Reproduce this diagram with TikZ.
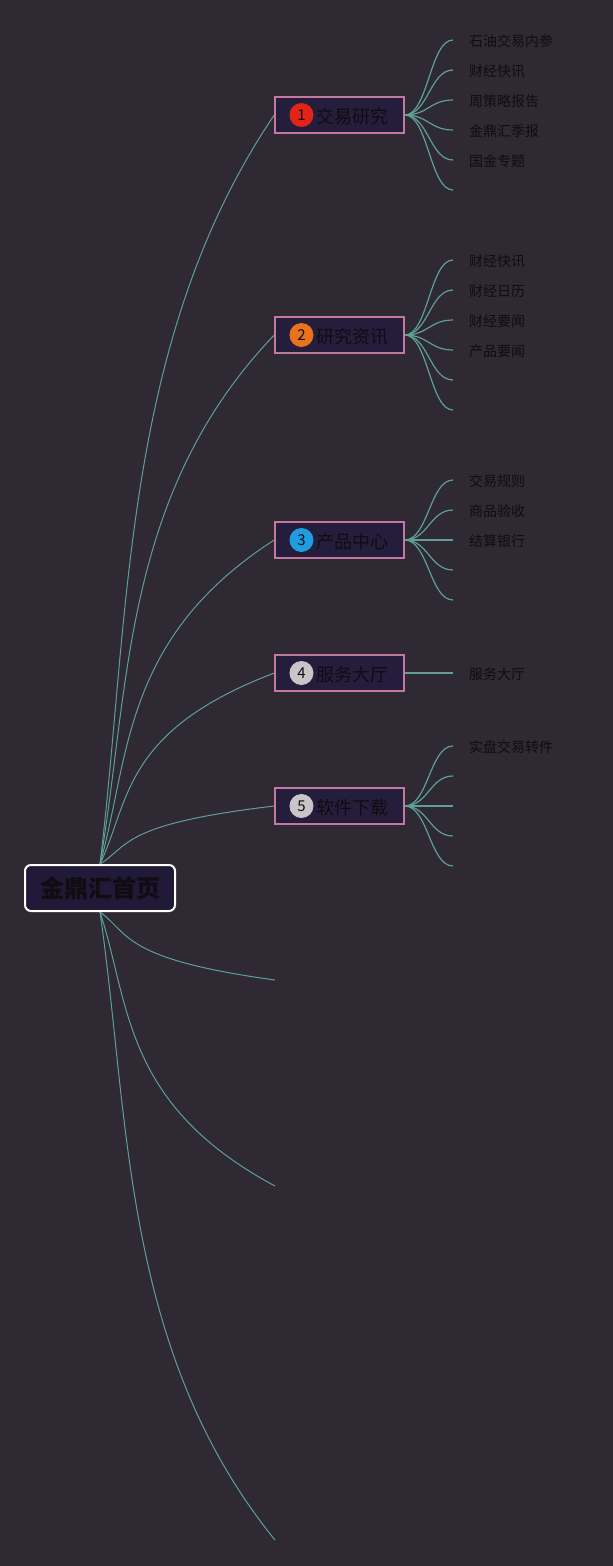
\documentclass[tikz,border=0pt]{standalone}
\usepackage{fontspec}
\newfontfamily\cjk{Noto Sans CJK SC}
\usepackage{tikz}
\usetikzlibrary{positioning}
\usepackage{xcolor}
\definecolor{bgdark}{RGB}{46,41,51}
\definecolor{rootfill}{RGB}{32,26,56}
\definecolor{topicfill}{RGB}{36,29,60}
\definecolor{topicedge}{RGB}{196,120,160}
\definecolor{linkteal}{RGB}{95,160,150}
\definecolor{inkdark}{RGB}{15,12,18}
\definecolor{badgered}{RGB}{226,36,24}
\definecolor{badgeorange}{RGB}{232,115,26}
\definecolor{badgeblue}{RGB}{30,157,224}
\definecolor{badgegrey}{RGB}{200,196,200}
\pgfdeclarelayer{bg}
\pgfdeclarelayer{links}
\pgfsetlayers{bg,links,main}

\begin{document}
\begin{tikzpicture}[x=1pt,y=-1pt,line cap=round,font=\cjk,
  root/.style={draw=white,line width=2pt,rounded corners=6pt,fill=rootfill,minimum width=150pt,minimum height=46pt,inner sep=0pt,text=inkdark,font=\cjk\bfseries\fontsize{24}{28}\selectfont},
  topic/.style={draw=topicedge,line width=1.5pt,fill=topicfill,minimum width=129pt,minimum height=36pt,inner sep=0pt},
  topictext/.style={inner sep=0pt,yshift=-1.5pt,text=inkdark,font=\cjk\fontsize{18}{20}\selectfont},
  badge/.style={circle,inner sep=0pt,minimum size=24pt,text=inkdark,font=\cjk\fontsize{15}{16}\selectfont},
  leaf/.style={inner sep=0pt,yshift=-1.5pt,text=inkdark,font=\cjk\fontsize{14}{16}\selectfont},
  branch/.style={draw=linkteal,line width=1pt},
  twig/.style={draw=linkteal,line width=1.2pt}]
\begin{pgfonlayer}{bg}
\fill[bgdark] (0,0) rectangle (613,1566);
\end{pgfonlayer}
\useasboundingbox (0,0) rectangle (613,1566);

\node[root] (r) at (100,888) {\raisebox{-1pt}{金鼎汇首页}};

\node[topic] (b1) at (339.5,115) {};
\node[badge,fill=badgered,right=15pt of b1.west] (i1) {1};
\node[topictext,right=3pt of i1] (n1) {交易研究};
\node[topic] (b2) at (339.5,335) {};
\node[badge,fill=badgeorange,right=15pt of b2.west] (i2) {2};
\node[topictext,right=3pt of i2] (n2) {研究资讯};
\node[topic] (b3) at (339.5,540) {};
\node[badge,fill=badgeblue,right=15pt of b3.west] (i3) {3};
\node[topictext,right=3pt of i3] (n3) {产品中心};
\node[topic] (b4) at (339.5,673) {};
\node[badge,fill=badgegrey,right=15pt of b4.west] (i4) {4};
\node[topictext,right=3pt of i4] (n4) {服务大厅};
\node[topic] (b5) at (339.5,806) {};
\node[badge,fill=badgegrey,right=15pt of b5.west] (i5) {5};
\node[topictext,right=3pt of i5] (n5) {软件下载};

\coordinate (e6) at (275,980);
\coordinate (e7) at (275,1186);
\coordinate (e8) at (275,1540);

\coordinate (e11) at (453,40);
\coordinate (e12) at (453,70);
\coordinate (e13) at (453,100);
\coordinate (e14) at (453,130);
\coordinate (e15) at (453,160);
\coordinate (e16) at (453,190);
\node[leaf,right=16pt of e11] (t11) {石油交易内参};
\node[leaf,right=16pt of e12] (t12) {财经快讯};
\node[leaf,right=16pt of e13] (t13) {周策略报告};
\node[leaf,right=16pt of e14] (t14) {金鼎汇季报};
\node[leaf,right=16pt of e15] (t15) {国金专题};

\coordinate (e21) at (453,260);
\coordinate (e22) at (453,290);
\coordinate (e23) at (453,320);
\coordinate (e24) at (453,350);
\coordinate (e25) at (453,380);
\coordinate (e26) at (453,410);
\node[leaf,right=16pt of e21] (t21) {财经快讯};
\node[leaf,right=16pt of e22] (t22) {财经日历};
\node[leaf,right=16pt of e23] (t23) {财经要闻};
\node[leaf,right=16pt of e24] (t24) {产品要闻};

\coordinate (e31) at (453,480);
\coordinate (e32) at (453,510);
\coordinate (e33) at (453,540);
\coordinate (e34) at (453,570);
\coordinate (e35) at (453,600);
\node[leaf,right=16pt of e31] (t31) {交易规则};
\node[leaf,right=16pt of e32] (t32) {商品验收};
\node[leaf,right=16pt of e33] (t33) {结算银行};

\coordinate (e41) at (453,673);
\node[leaf,right=16pt of e41] (t41) {服务大厅};

\coordinate (e51) at (453,746);
\coordinate (e52) at (453,776);
\coordinate (e53) at (453,806);
\coordinate (e54) at (453,836);
\coordinate (e55) at (453,866);
\node[leaf,right=16pt of e51] (t51) {实盘交易转件};

\begin{pgfonlayer}{links}
\draw[branch] (r.north) .. controls (130,615) and (122,340) .. (b1.west);
\draw[branch] (r.north) .. controls (130,688) and (122,494) .. (b2.west);
\draw[branch] (r.north) .. controls (130,757) and (122,638) .. (b3.west);
\draw[branch] (r.north) .. controls (130,801) and (122,731) .. (b4.west);
\draw[branch] (r.north) .. controls (130,845) and (122,824) .. (b5.west);
\draw[branch] (r.south) .. controls (130,934) and (122,959) .. (e6);
\draw[branch] (r.south) .. controls (130,1003) and (122,1104) .. (e7);
\draw[branch] (r.south) .. controls (130,1121) and (122,1351) .. (e8);

\draw[twig] (b1.east) .. controls (428,115) and (430,40) .. (e11);
\draw[twig] (b1.east) .. controls (428,115) and (430,70) .. (e12);
\draw[twig] (b1.east) .. controls (428,115) and (430,100) .. (e13);
\draw[twig] (b1.east) .. controls (428,115) and (430,130) .. (e14);
\draw[twig] (b1.east) .. controls (428,115) and (430,160) .. (e15);
\draw[twig] (b1.east) .. controls (428,115) and (430,190) .. (e16);

\draw[twig] (b2.east) .. controls (428,335) and (430,260) .. (e21);
\draw[twig] (b2.east) .. controls (428,335) and (430,290) .. (e22);
\draw[twig] (b2.east) .. controls (428,335) and (430,320) .. (e23);
\draw[twig] (b2.east) .. controls (428,335) and (430,350) .. (e24);
\draw[twig] (b2.east) .. controls (428,335) and (430,380) .. (e25);
\draw[twig] (b2.east) .. controls (428,335) and (430,410) .. (e26);

\draw[twig] (b3.east) .. controls (428,540) and (430,480) .. (e31);
\draw[twig] (b3.east) .. controls (428,540) and (430,510) .. (e32);
\draw[twig] (b3.east) -- (e33);
\draw[twig] (b3.east) .. controls (428,540) and (430,570) .. (e34);
\draw[twig] (b3.east) .. controls (428,540) and (430,600) .. (e35);

\draw[twig] (b4.east) -- (e41);

\draw[twig] (b5.east) .. controls (428,806) and (430,746) .. (e51);
\draw[twig] (b5.east) .. controls (428,806) and (430,776) .. (e52);
\draw[twig] (b5.east) -- (e53);
\draw[twig] (b5.east) .. controls (428,806) and (430,836) .. (e54);
\draw[twig] (b5.east) .. controls (428,806) and (430,866) .. (e55);
\end{pgfonlayer}
\end{tikzpicture}
\end{document}
